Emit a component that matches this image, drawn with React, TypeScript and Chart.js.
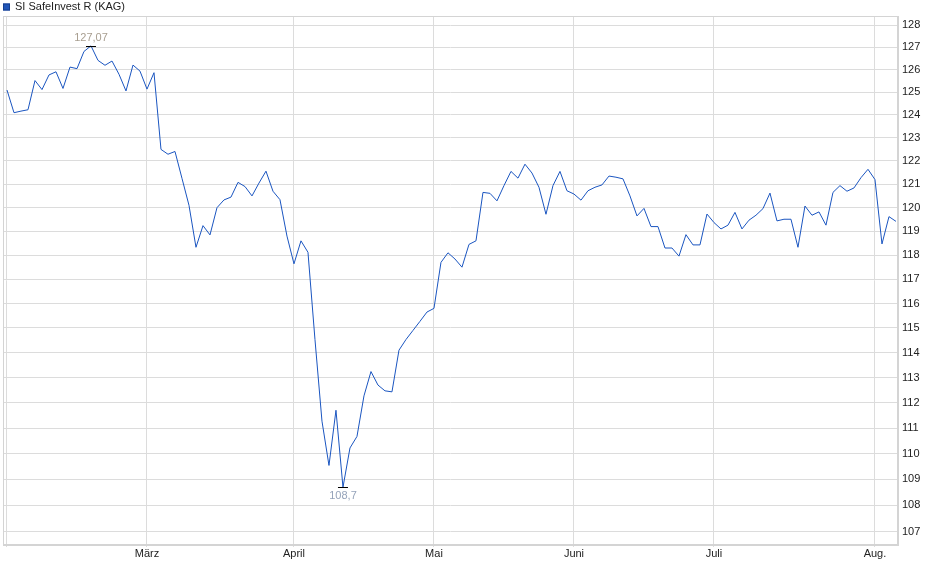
import React, { useEffect, useRef } from "react";
import { Chart, registerables } from "chart.js";

Chart.register(...registerables);

const seriesName = "SI SafeInvest R (KAG)";

// daily prices (trading days, Feb 3 – Aug 6)
const prices: number[] = [
  125.1, 124.1, 124.17, 124.23, 125.52, 125.12, 125.77, 125.91, 125.17, 126.12,
  126.05, 126.82, 127.07, 126.42, 126.2, 126.39, 125.8, 125.06, 126.21, 125.94,
  125.14, 125.87, 122.5, 122.29, 122.41, 121.25, 120.1, 118.33, 119.24, 118.85,
  120.0, 120.33, 120.45, 121.08, 120.9, 120.5, 121.05, 121.56, 120.7, 120.34,
  118.8, 117.64, 118.6, 118.12, 114.53, 111.27, 109.54, 111.7, 108.7, 110.22,
  110.67, 112.27, 113.24, 112.7, 112.47, 112.43, 114.1, 114.53, 114.9, 115.27,
  115.65, 115.8, 117.7, 118.1, 117.84, 117.5, 118.45, 118.6, 120.65, 120.61,
  120.29, 120.94, 121.55, 121.26, 121.86, 121.48, 120.87, 119.72, 120.94, 121.55,
  120.72, 120.58, 120.32, 120.72, 120.87, 120.97, 121.35, 121.3, 121.23, 120.5,
  119.65, 119.97, 119.2, 119.2, 118.3, 118.3, 117.96, 118.86, 118.43, 118.43,
  119.73, 119.37, 119.1, 119.26, 119.8, 119.1, 119.47, 119.68, 119.96, 120.62,
  119.44, 119.51, 119.51, 118.33, 120.07, 119.68, 119.82, 119.26, 120.65, 120.94,
  120.7, 120.84, 121.28, 121.64, 121.2, 118.47, 119.62, 119.42,
];

// index of first trading day of each month
const monthTickIndex: number[] = [0, 20, 41, 61, 81, 101, 124];
const monthTickLabels: string[] = ["", "März", "April", "Mai", "Juni", "Juli", "Aug."];

const yTicks: number[] = [
  107, 108, 109, 110, 111, 112, 113, 114, 115, 116, 117, 118, 119, 120, 121, 122,
  123, 124, 125, 126, 127, 128,
];

const FONT = "'Liberation Sans', Arial, sans-serif";
const LINE_COLOR = "#1a55c0";
const GRID_COLOR = "#dcdcdc";

const formatDe = (v: number) => String(v).replace(".", ",");

const framePlugin = {
  id: "frame",
  beforeDatasetsDraw(chart: any) {
    const { ctx, chartArea } = chart;
    ctx.save();
    ctx.strokeStyle = "#d4d4d4";
    ctx.lineWidth = 1;
    ctx.strokeRect(
      Math.round(chartArea.left) + 0.5,
      Math.round(chartArea.top) + 0.5,
      Math.round(chartArea.right - chartArea.left) - 1,
      Math.round(chartArea.bottom - chartArea.top) - 1
    );
    ctx.restore();
  },
};

const legendPlugin = {
  id: "customLegend",
  afterDraw(chart: any) {
    const { ctx } = chart;
    ctx.save();
    ctx.fillStyle = "#2156b8";
    ctx.fillRect(3, 3.5, 7, 7);
    ctx.strokeStyle = "#163f8f";
    ctx.lineWidth = 1;
    ctx.strokeRect(3.5, 4, 6, 6);
    ctx.fillStyle = "#222222";
    ctx.font = `11px ${FONT}`;
    ctx.textBaseline = "middle";
    ctx.textAlign = "left";
    ctx.fillText(seriesName, 15, 7);
    ctx.restore();
  },
};

const extremaPlugin = {
  id: "extrema",
  afterDatasetsDraw(chart: any) {
    const { ctx, scales } = chart;
    let maxI = 0;
    let minI = 0;
    prices.forEach((v, i) => {
      if (v > prices[maxI]) maxI = i;
      if (v < prices[minI]) minI = i;
    });
    const draw = (i: number, above: boolean, color: string) => {
      const px = scales.x.getPixelForValue(i);
      const py = scales.y.getPixelForValue(prices[i]);
      ctx.save();
      ctx.strokeStyle = "#000000";
      ctx.lineWidth = 1;
      const yy = Math.round(py) + 0.5;
      ctx.beginPath();
      ctx.moveTo(px - 5, yy);
      ctx.lineTo(px + 5, yy);
      ctx.stroke();
      ctx.fillStyle = color;
      ctx.font = `11px ${FONT}`;
      ctx.textAlign = "center";
      ctx.textBaseline = "middle";
      ctx.fillText(formatDe(prices[i]), px, above ? py - 8 : py + 9);
      ctx.restore();
    };
    draw(maxI, true, "#a89e90");
    draw(minI, false, "#95a3ba");
  },
};

export default function App() {
  const canvasRef = useRef<HTMLCanvasElement | null>(null);

  useEffect(() => {
    if (!canvasRef.current) return;
    const chart = new Chart(canvasRef.current, {
      type: "line",
      data: {
        datasets: [
          {
            label: seriesName,
            data: prices.map((v, i) => ({ x: i, y: v })),
            borderColor: LINE_COLOR,
            backgroundColor: LINE_COLOR,
            borderWidth: 1,
            pointRadius: 0,
            tension: 0,
            fill: false,
          },
        ],
      },
      options: {
        animation: false,
        responsive: false,
        maintainAspectRatio: false,
        layout: { padding: { top: 16, left: 3, right: 0, bottom: 0 } },
        plugins: {
          legend: { display: false },
          tooltip: { enabled: false },
        },
        scales: {
          x: {
            type: "linear",
            position: "bottom",
            min: -0.57,
            max: 127.29,
            afterBuildTicks: (scale: any) => {
              scale.ticks = monthTickIndex.map((v) => ({ value: v }));
            },
            afterFit: (scale: any) => {
              scale.height = 34;
            },
            ticks: {
              autoSkip: false,
              maxRotation: 0,
              padding: 0,
              color: "#222222",
              font: { family: FONT, size: 11 },
              callback: (value: any) => {
                const k = monthTickIndex.indexOf(Number(value));
                return k >= 0 ? monthTickLabels[k] : "";
              },
            },
            grid: {
              color: GRID_COLOR,
              lineWidth: 1,
              drawTicks: true,
              tickLength: 2,
            },
            border: { display: true, color: "#d4d4d4" },
          },
          y: {
            type: "logarithmic",
            position: "right",
            min: 106.5,
            max: 128.42,
            afterBuildTicks: (scale: any) => {
              scale.ticks = yTicks.map((v) => ({ value: v }));
            },
            afterFit: (scale: any) => {
              scale.width = 42;
            },
            ticks: {
              autoSkip: false,
              padding: 4,
              color: "#222222",
              font: { family: FONT, size: 11 },
              callback: (value: any) => String(value),
            },
            grid: {
              color: GRID_COLOR,
              lineWidth: 1,
              drawTicks: false,
            },
            border: { display: true, color: "#d4d4d4" },
          },
        },
      },
      plugins: [framePlugin, extremaPlugin, legendPlugin],
    });
    return () => chart.destroy();
  }, []);

  return (
    <div style={{ position: "fixed", left: 0, top: 0, width: 940, height: 579, background: "#ffffff" }}>
      <canvas ref={canvasRef} width={940} height={579} style={{ width: 940, height: 579, display: "block" }} />
    </div>
  );
}
